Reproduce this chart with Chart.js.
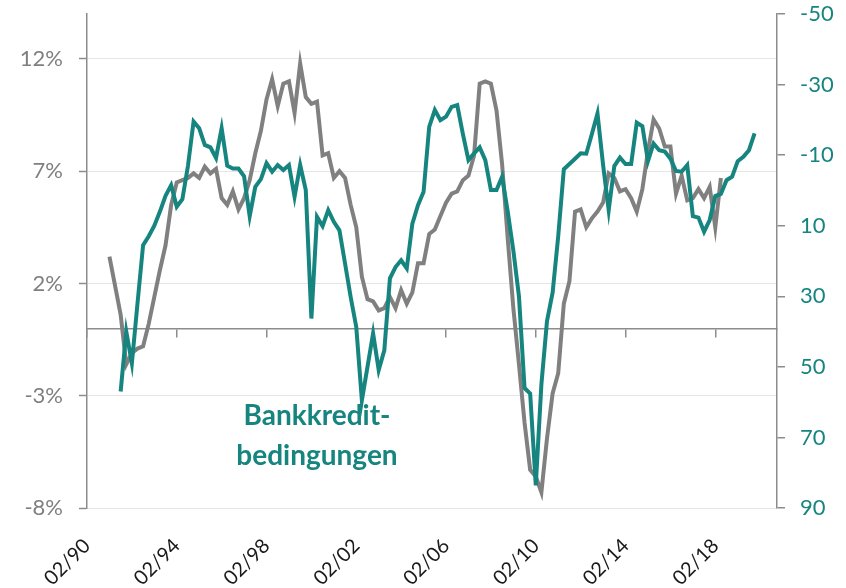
<!DOCTYPE html>
<html>
<head>
<meta charset="utf-8">
<script src="https://cdn.jsdelivr.net/npm/chart.js@4.4.1/dist/chart.umd.min.js"></script>
<style>
  html, body { margin: 0; padding: 0; background: #fff; }
</style>
</head>
<body>
<canvas id="chart" width="846" height="588"></canvas>
<script>
// quarterly categories 02/90 ... 11/20
const quarterMonths = ['02', '05', '08', '11'];
const firstYear = 1990;
const quarterCount = 124;
const categories = [];
for (let i = 0; i < quarterCount; i++) {
    const yy = String((firstYear + Math.floor(i / 4)) % 100).padStart(2, '0');
    categories.push(quarterMonths[i % 4] + '/' + yy);
}
const labelEvery = 16; // one label every 4 years

const leftTicks = [-8, -3, 2, 7, 12];
const rightTicks = [-50, -30, -10, 10, 30, 50, 70, 90];

// grey line, left axis (%), starts 02/91
const loanGrowthStart = 4;
const loanGrowth = [
    3.2, 1.9, 0.6, -1.6, -1.1, -0.9, -0.8, 0.2, 1.4, 2.6,
    3.7, 5.5, 6.5, 6.6, 6.7, 6.9, 6.7, 7.2, 6.9, 7.1,
    5.8, 5.5, 6.1, 5.3, 5.8, 6.6, 7.8, 8.8, 10.2, 11.1,
    9.9, 10.9, 11.0, 9.6, 11.8, 10.3, 10.0, 10.1, 7.7, 7.8,
    6.7, 7.0, 6.7, 5.5, 4.5, 2.3, 1.3, 1.2, 0.8, 0.9,
    1.4, 0.9, 1.7, 1.1, 1.6, 2.9, 2.9, 4.2, 4.4, 5.0,
    5.6, 6.0, 6.1, 6.6, 6.8, 7.7, 10.9, 11.0, 10.9, 9.7,
    7.3, 4.0, 0.9, -1.6, -4.2, -6.3, -6.6, -7.3, -4.9, -2.9,
    -2.0, 1.1, 2.1, 5.2, 5.3, 4.5, 4.9, 5.2, 5.6, 6.9,
    6.7, 6.1, 6.2, 5.8, 5.2, 6.2, 7.9, 9.3, 8.9, 8.1,
    8.1, 6.0, 6.8, 5.7, 5.8, 6.2, 5.8, 6.3, 4.5, 6.7
];

// teal line, right axis (reversed), starts 08/91
const lendingStandardsStart = 6;
const lendingStandards = [
    57, 40, 49, 32, 15.5, 13, 10, 6, 1.5, -1.5,
    4.6, 2.5, -7, -19.5, -17.6, -12.9, -12.2, -9.2, -17.6, -7,
    -6.2, -6.2, -4, 7.3, -1, -3.2, -7.7, -5.3, -7.2, -5.8,
    -7.2, 1.8, -7.2, -0.1, 36.3, 7.5, 10.1, 5.6, 8.9, 11.3,
    20.7, 30.2, 38.7, 59.5, 50, 40.5, 50.9, 45.3, 24.9, 21.7,
    19.8, 22.1, 9.4, 4.2, 0.4, -18, -22.8, -19.9, -20.9, -23.7,
    -24.2, -16, -8.6, -10.5, -12.2, -8.6, -0.1, -0.1, -3.9, 6,
    17, 30, 56, 57.6, 83.6, 55, 37, 29, 13, -6,
    -7.5, -9, -10.5, -10.4, -16, -21.8, -7.2, 5.6, -6.9, -9.3,
    -7.5, -7.5, -19.2, -18.2, -8.3, -13.3, -11.4, -11, -9, -5.5,
    -5.3, -7.2, 7.3, 7.7, 11.7, 8.4, 1.6, 1.0, -2.9, -3.9,
    -8.3, -9.5, -11.4, -16.2
];

const teal = '#16857f';
const grey = '#808080';
const axisGrey = '#8c8c8c';

function place(start, values) {
    const out = new Array(categories.length).fill(null);
    values.forEach((v, i) => { out[start + i] = v; });
    return out;
}

const everyFourYears = (axis) => {
    axis.ticks = axis.ticks.filter((t) => t.value % labelEvery === 0);
};

// keep the tick label padding from pushing the plot area down
const noVerticalPadding = (axis) => {
    axis.paddingTop = 0;
    axis.paddingBottom = 0;
};

const annotation = {
    id: 'annotation',
    afterDatasetsDraw(chart) {
        const { ctx, scales } = chart;
        const x = scales.x.getPixelForValue(41);
        const y = scales.y.getPixelForValue(-4.3);
        ctx.save();
        ctx.fillStyle = teal;
        ctx.font = 'bold 28px Lato';
        ctx.textAlign = 'center';
        ctx.textBaseline = 'alphabetic';
        ctx.fillText('Bankkredit-', x, y);
        ctx.fillText('bedingungen', x, y + 40);
        ctx.restore();
    }
};

new Chart(document.getElementById('chart'), {
    type: 'line',
    data: {
        labels: categories,
        datasets: [{
            label: 'Bankkreditbedingungen',
            data: place(lendingStandardsStart, lendingStandards),
            yAxisID: 'y2',
            borderColor: teal,
            borderWidth: 4,
            pointRadius: 0,
            tension: 0
        }, {
            label: 'Kreditwachstum',
            data: place(loanGrowthStart, loanGrowth),
            yAxisID: 'y',
            borderColor: grey,
            borderWidth: 4,
            pointRadius: 0,
            tension: 0
        }]
    },
    options: {
        responsive: false,
        animation: false,
        devicePixelRatio: 1,
        layout: { padding: { top: 14, left: 0, right: 0, bottom: 0 } },
        plugins: {
            legend: { display: false },
            tooltip: { enabled: false }
        },
        scales: {
            x: {
                type: 'category',
                position: 'bottom',
                afterBuildTicks: everyFourYears,
                afterFit: (axis) => { axis.height = 80; },
                grid: { display: false, drawTicks: false },
                border: { display: false },
                ticks: {
                    autoSkip: false,
                    maxRotation: 45,
                    minRotation: 45,
                    padding: 26,
                    color: '#1a1a1a',
                    font: { family: 'Lato', size: 20 }
                }
            },
            x2: {
                type: 'category',
                axis: 'x',
                position: { y: 0 },
                afterBuildTicks: everyFourYears,
                grid: { display: true, drawOnChartArea: false, tickLength: 8, color: axisGrey, lineWidth: 1.5 },
                border: { display: true, color: axisGrey, width: 1.5 },
                ticks: { display: false }
            },
            y: {
                type: 'linear',
                position: 'left',
                min: -8,
                max: 14,
                afterBuildTicks: (axis) => { axis.ticks = leftTicks.map((v) => ({ value: v })); },
                afterFit: (axis) => { axis.width = 87; noVerticalPadding(axis); },
                grid: { color: '#e6e6e6', lineWidth: 1, tickLength: 8, tickColor: axisGrey, tickWidth: 1.5 },
                border: { color: axisGrey, width: 1.5 },
                ticks: {
                    callback: (v) => v + '%',
                    color: '#7f7f7f',
                    padding: 16,
                    font: { family: 'Lato', size: 22 }
                }
            },
            y2: {
                type: 'linear',
                position: 'right',
                min: -50,
                max: 90,
                reverse: true,
                afterBuildTicks: (axis) => { axis.ticks = rightTicks.map((v) => ({ value: v })); },
                afterFit: (axis) => { axis.width = 69; noVerticalPadding(axis); },
                grid: { drawOnChartArea: false, tickLength: 8, color: axisGrey, lineWidth: 1.5 },
                border: { color: axisGrey, width: 1.5 },
                ticks: {
                    color: teal,
                    padding: 15,
                    font: { family: 'Lato', size: 22 }
                }
            }
        }
    },
    plugins: [annotation]
});
</script>
</body>
</html>
